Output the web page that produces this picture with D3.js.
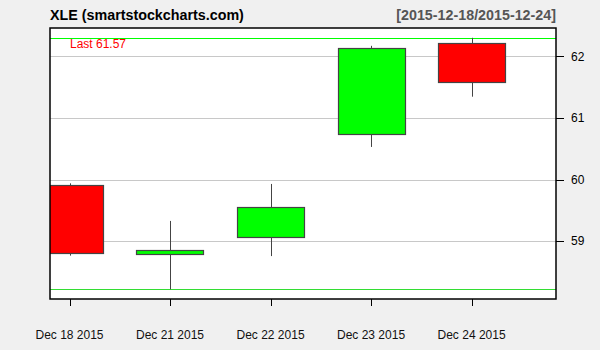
<!DOCTYPE html>
<html>
<head>
<meta charset="utf-8">
<script src="https://cdn.jsdelivr.net/npm/d3@7"></script>
<style>
  body { margin: 0; background: #f0f0f0; }
  svg { display: block; font-family: "Liberation Sans", Arial, sans-serif; }
</style>
</head>
<body>
<svg id="chart" width="600" height="350"></svg>
<script>
// OHLC data
const dates = ["Dec 18 2015", "Dec 21 2015", "Dec 22 2015", "Dec 23 2015", "Dec 24 2015"];
const open  = [59.91, 58.80, 59.065, 60.735, 62.21];
const high  = [59.94, 59.33, 59.93, 62.17, 62.30];
const low   = [58.767, 58.22, 58.76, 60.53, 61.345];
const close = [58.805, 58.86, 59.55, 62.13, 61.57];
const yTicks = [59, 60, 61, 62];
const title = "XLE (smartstockcharts.com)";
const range = "[2015-12-18/2015-12-24]";

const svg = d3.select("#chart");
const pLeft = 50, pRight = 556, pTop = 28, pBottom = 299;

// x positions are bar indexes, a bit of padding at both ends
const x = d3.scaleLinear().domain([-0.194, 4.84]).range([pLeft, pRight]);
const y = d3.scaleLinear().domain([58.064, 62.459]).range([pBottom, pTop]);
const bw = x(0.667) - x(0);
const snap = v => Math.round(v) + 0.5;

svg.append("defs").append("clipPath").attr("id", "plotclip")
  .append("rect").attr("x", pLeft).attr("y", pTop)
  .attr("width", pRight - pLeft).attr("height", pBottom - pTop);

svg.append("rect").attr("x", pLeft).attr("y", pTop)
  .attr("width", pRight - pLeft).attr("height", pBottom - pTop)
  .attr("fill", "white");

// horizontal grid
svg.append("g").selectAll("line").data(yTicks).join("line")
  .attr("x1", pLeft).attr("x2", pRight)
  .attr("y1", d => snap(y(d))).attr("y2", d => snap(y(d)))
  .attr("stroke", "#c8c8c8").attr("stroke-width", 1);

// max high / min low lines
const hi = d3.max(high), lo = d3.min(low);
svg.append("line").attr("x1", pLeft).attr("x2", pRight)
  .attr("y1", snap(y(hi))).attr("y2", snap(y(hi)))
  .attr("stroke", "#00ff00").attr("stroke-width", 1);
svg.append("line").attr("x1", pLeft).attr("x2", pRight)
  .attr("y1", snap(y(lo))).attr("y2", snap(y(lo)))
  .attr("stroke", "#33dd33").attr("stroke-width", 1);

const idx = d3.range(dates.length);
const g = svg.append("g").attr("clip-path", "url(#plotclip)");

// wicks
g.selectAll(".wick").data(idx).join("line")
  .attr("x1", i => snap(x(i))).attr("x2", i => snap(x(i)))
  .attr("y1", i => y(high[i])).attr("y2", i => y(low[i]))
  .attr("stroke", "#444").attr("stroke-width", 1);

// bodies
g.selectAll(".body").data(idx).join("rect")
  .attr("x", i => snap(x(i) - bw / 2))
  .attr("width", Math.round(bw))
  .attr("y", i => snap(y(Math.max(open[i], close[i]))))
  .attr("height", i => Math.max(2, Math.round(Math.abs(y(open[i]) - y(close[i])))))
  .attr("fill", i => close[i] >= open[i] ? "#00ff00" : "#ff0000")
  .attr("stroke", "#444").attr("stroke-width", 1.2);

// last value label
svg.append("text").attr("x", 70).attr("y", 48)
  .attr("font-size", 12).attr("fill", "#ff0000")
  .text("Last " + close[close.length - 1].toFixed(2));

// frame
svg.append("rect").attr("x", pLeft).attr("y", pTop)
  .attr("width", pRight - pLeft).attr("height", pBottom - pTop)
  .attr("fill", "none").attr("stroke", "#000").attr("stroke-width", 1.5);

// y axis on the right
const ya = svg.append("g");
ya.selectAll("line").data(yTicks).join("line")
  .attr("x1", pRight).attr("x2", pRight + 8)
  .attr("y1", d => snap(y(d))).attr("y2", d => snap(y(d)))
  .attr("stroke", "#000");
ya.selectAll("text").data(yTicks).join("text")
  .attr("x", pRight + 15).attr("y", d => y(d))
  .attr("dy", "0.35em").attr("font-size", 12).attr("fill", "#000")
  .text(d => d);

// x axis ticks and labels
const xa = svg.append("g");
xa.selectAll("line").data(idx).join("line")
  .attr("x1", i => snap(x(i))).attr("x2", i => snap(x(i)))
  .attr("y1", pBottom).attr("y2", pBottom + 7)
  .attr("stroke", "#000");
xa.selectAll("text").data(idx).join("text")
  .attr("x", i => x(i)).attr("y", 339)
  .attr("text-anchor", "middle").attr("font-size", 12).attr("fill", "#111")
  .text(i => dates[i]);

// titles
svg.append("text").attr("x", pLeft).attr("y", 20)
  .attr("font-size", 14.3).attr("font-weight", "bold").attr("fill", "#000")
  .text(title);
svg.append("text").attr("x", pRight).attr("y", 20)
  .attr("text-anchor", "end")
  .attr("font-size", 14.3).attr("font-weight", "bold").attr("fill", "#555")
  .text(range);
</script>
</body>
</html>
